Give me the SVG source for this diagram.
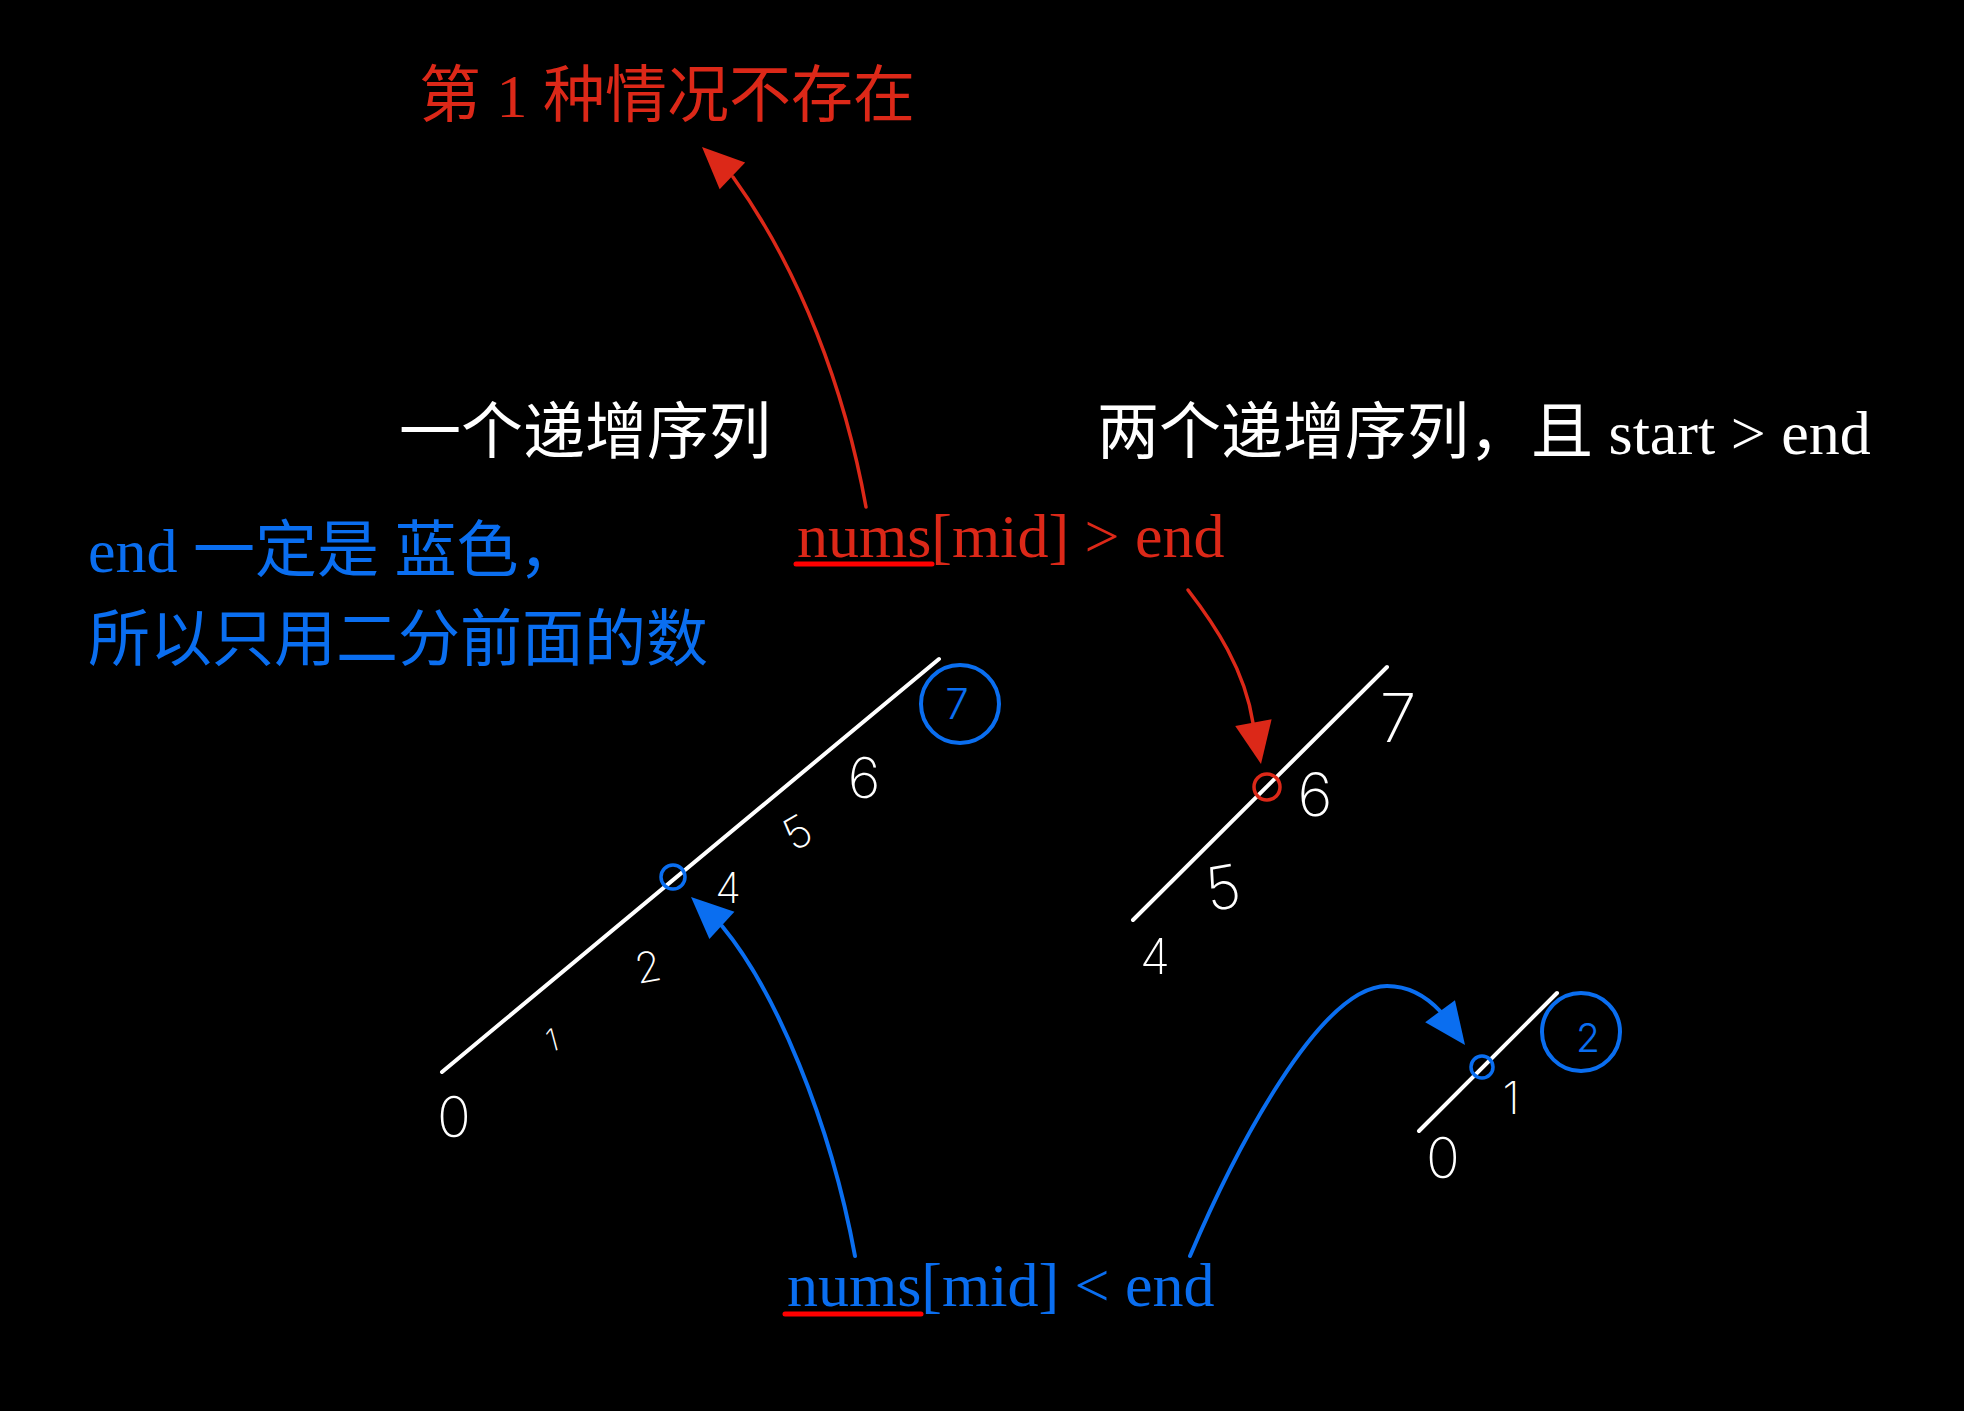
<svg xmlns="http://www.w3.org/2000/svg" xmlns:xlink="http://www.w3.org/1999/xlink" width="1964" height="1411" viewBox="0 0 1964 1411">
<style>
.t{font-family:'Liberation Serif','Noto Sans CJK SC',serif;font-size:62px}
.red{fill:#dc2818}
.blue{fill:#0a6ef0}
.white{fill:#ffffff}
.ul{stroke:#ff0000;stroke-width:5;stroke-linecap:round;fill:none}
.seq{stroke:#ffffff;stroke-width:4;stroke-linecap:round;fill:none}
.d{font-family:Inter,Lato,'Noto Sans',sans-serif;font-weight:200;text-anchor:middle;fill:#ffffff}
.db{font-family:Inter,Lato,'Noto Sans',sans-serif;font-weight:300;text-anchor:middle;fill:#0a6ef0}
.cb{stroke:#0a6ef0;fill:none}
.cr{stroke:#dc2818;fill:none}
.ar{stroke:#dc2818;stroke-width:3.5;fill:none;stroke-linecap:round}
.ab{stroke:#0a6ef0;stroke-width:4;fill:none;stroke-linecap:round}
</style>
<defs>
<path id="ah" d="M0,0 L-42,-18.5 L-42,18.5 Z"/>
</defs>
<rect width="1964" height="1411" fill="#000000"/>

<g id="title">
<text class="t red" x="419" y="117">第 1 种情况不存在</text>
</g>

<g id="label-one">
<text class="t white" x="399" y="454">一个递增序列</text>
</g>

<g id="label-two">
<text class="t white" x="1097" y="454">两个递增序列，且 start &gt; end</text>
</g>

<g id="note-blue">
<text class="t blue" x="88" y="572">end 一定是 蓝色，</text>
<text class="t blue" x="88" y="661">所以只用二分前面的数</text>
</g>

<g id="cond-gt">
<text class="t red" x="797" y="557">nums[mid] &gt; end</text>
<line class="ul" x1="796" y1="564" x2="932" y2="564"/>
</g>

<g id="cond-lt">
<text class="t blue" x="787" y="1306">nums[mid] &lt; end</text>
<line class="ul" x1="785" y1="1314" x2="921" y2="1314"/>
</g>

<g id="seq-left">
<line class="seq" x1="442" y1="1072" x2="939" y2="659"/>
<circle class="cb" cx="673" cy="877" r="12" stroke-width="3.5"/>
<circle class="cb" cx="960" cy="704" r="39" stroke-width="4"/>
<text class="db" x="957" y="719" font-size="42">7</text>
<text class="d" x="454" y="1137" font-size="56">0</text>
<text class="d" x="552" y="1051" font-size="31" transform="rotate(-15 552 1040)">1</text>
<text class="d" x="648" y="982" font-size="42" transform="rotate(-10 648 967)">2</text>
<text class="d" x="728" y="903" font-size="42">4</text>
<text class="d" x="797" y="848" font-size="44" transform="rotate(-30 797 832)">5</text>
<text class="d" x="864" y="798" font-size="56">6</text>
</g>

<g id="seq-right">
<line class="seq" x1="1133" y1="920" x2="1387" y2="667"/>
<circle class="cr" cx="1267" cy="787" r="13" stroke-width="3.5"/>
<text class="d" x="1398" y="742" font-size="67">7</text>
<text class="d" x="1315" y="816" font-size="60">6</text>
<text class="d" x="1223" y="909" font-size="60" transform="rotate(-10 1223 888)">5</text>
<text class="d" x="1155" y="974" font-size="49">4</text>
</g>

<g id="seq-small">
<line class="seq" x1="1419" y1="1131" x2="1557" y2="993"/>
<circle class="cb" cx="1482" cy="1067" r="11" stroke-width="3.5"/>
<circle class="cb" cx="1581" cy="1032" r="39" stroke-width="4"/>
<text class="db" x="1588" y="1052" font-size="39">2</text>
<text class="d" x="1511" y="1114" font-size="45">1</text>
<text class="d" x="1443" y="1178" font-size="56">0</text>
</g>

<g id="connectors">
<path class="ar" d="M866,507 C845,390 800,270 733,177"/>
<use xlink:href="#ah" fill="#dc2818" transform="translate(702,147) rotate(-136.4)"/>
<path class="ar" d="M1188,590 C1215,625 1245,670 1253,723"/>
<use xlink:href="#ah" fill="#dc2818" transform="translate(1261,764) rotate(79.6)"/>
<path class="ab" d="M855,1256 C830,1120 775,990 722,926"/>
<use xlink:href="#ah" fill="#0a6ef0" transform="translate(691,897) rotate(-137.4)"/>
<path class="ab" d="M1190,1256 C1235,1150 1320,986 1387,986 C1410,986 1428,998 1441,1012"/>
<use xlink:href="#ah" fill="#0a6ef0" transform="translate(1465,1045) rotate(53.6)"/>
</g>
</svg>
